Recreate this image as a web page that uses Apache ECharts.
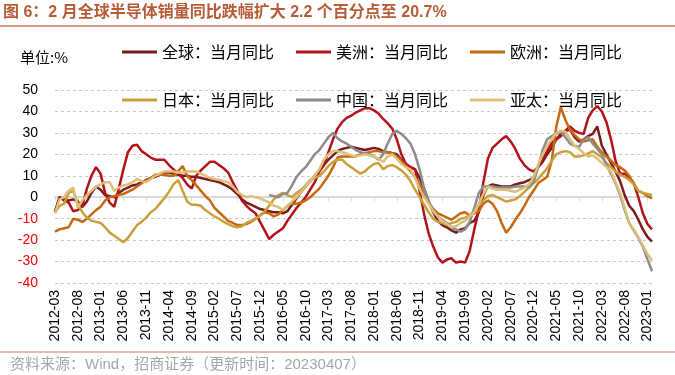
<!DOCTYPE html>
<html lang="zh">
<head>
<meta charset="UTF-8">
<title>全球半导体销量同比</title>
<script src="https://cdn.jsdelivr.net/npm/echarts@6/dist/echarts.min.js"></script>
<style>
  html, body { margin: 0; padding: 0; background: #fff; }
  #main { width: 675px; height: 375px; }
</style>
</head>
<body>
<div id="main"></div>
<script>
// 月份：2012-03 ~ 2023-02
let months = []
for (let y = 2012; y <= 2023; y++) {
    for (let m = 1; m <= 12; m++) {
        if ((y === 2012 && m < 3) || (y === 2023 && m > 2)) continue
        months.push(y + '-' + String(m).padStart(2, '0'))
    }
}

let seriesNames = ['全球：当月同比', '美洲：当月同比', '欧洲：当月同比', '日本：当月同比', '中国：当月同比', '亚太：当月同比']
let seriesColors = ['#7B1A1A', '#B3121A', '#C4690F', '#C9A03C', '#8C8C8C', '#DDBF78']

let globalYoy = [
    -7, 0, -1, -1.5, -1, -2, -4.5, -2, 2, 5,
    3.5, 1, 0.5, 0, 2, 3.5, 4.5, 5.5, 6, 7, 8, 9,
    9.5, 10.5, 11.5, 11.5, 11, 10.5, 10, 10, 9.5, 9.5, 9, 8.5,
    8, 7.5, 7, 6, 5, 3.5, 1.5, -1, -2.5, -3.5, -4.5, -5.5,
    -6, -6.5, -7, -7, -7.5, -6.5, -3.5, -0.5, 2.5, 5, 7.5, 10,
    12.5, 15, 17.5, 19.5, 21.5, 22.5, 23, 23.5, 23, 22.5, 22, 22.5,
    23, 22.5, 21.5, 21, 20.5, 20, 17.5, 15.5, 14, 13, 9, 4,
    -2, -7, -11, -13, -14, -15.5, -16.5, -15, -14.5, -12, -11, -7,
    1, 5, 6, 5.5, 5, 5, 5, 6, 6.5, 7, 8, 9,
    14, 16.5, 20, 23, 27, 29.5, 31, 31.5, 28, 26, 27, 28.5,
    29.5, 33, 24, 20, 16, 12, 7.5, 1, -4, -6.5, -10.5, -15,
    -18.5, -20.7
]
let americasYoy = [
    -7, 0, -1.5, -2.5, -6.5, -6, -4, 4, 10, 14,
    11, 2, -2.5, -4.5, 4, 13, 21, 24, 24.5, 21.5, 20, 18.5,
    17.5, 17.5, 17.5, 15, 13, 11, 9, 6, 4, 10, 12.5, 14.5,
    16.5, 16.5, 15, 13.5, 11.5, 7, 3, -1.5, -4, -6, -7.5, -11.5,
    -15.5, -19.5, -17.5, -16, -14.5, -11, -8, -5, -2.5, 0, 3.5, 7,
    12, 15, 21, 27, 32, 35, 37, 38, 39.5, 40.5, 41.5, 41.5,
    40.5, 39, 36.5, 34.5, 32, 27, 20, 15.5, 14, 13, 3, -8,
    -17, -23, -28, -30.5, -29, -28.5, -30.5, -30, -30.5, -25, -15, -6,
    7, 18, 23, 25, 27, 28.5, 26, 22.5, 18, 15, 13, 12,
    14, 17.5, 21.5, 25.5, 27, 28.5, 31, 33, 31, 30, 29.5, 37,
    40.5, 42.5, 40, 35, 27, 17, 11, 11, 9, 6.5, 0, -7.5,
    -12.5, -15
]
let europeYoy = [
    -16, -15, -14.5, -14, -10, -10.5, -11.5, -10, -8, -6,
    -4.5, -1.5, 0, 0.5, 1, 1.5, 2.5, 3.5, 5, 6.5, 8, 9,
    10.5, 10.5, 10.5, 10, 10, 12, 14.5, 10, 8, 5.5, 3, 0.5,
    -1.5, -5, -7, -9, -11, -12, -13, -13, -12.5, -11.5, -10, -8.5,
    -7, -7.5, -9, -8, -6, -4, -3, -3, -2.5, -1.5, 0, 2,
    4, 7, 10, 14, 18.5, 19, 19, 19, 19, 20, 20.5, 21,
    21.5, 21.5, 21, 21, 20.5, 19, 17, 14.5, 12, 9.5, 6, 1,
    -2.5, -5.5, -7.5, -8.5, -9.5, -10.5, -9, -7.5, -7, -8.5, -7.5, -6.5,
    -3, -1.5, -3, -6.5, -12, -16.5, -14, -10.5, -7.5, -4, 0, 3,
    6.5, 8, 9.5, 17, 33, 42, 36, 31.5, 29, 27, 26, 26.5,
    27, 23.5, 21, 19, 17, 15, 14, 12.5, 10, 6.5, 3, 2,
    0.5, -0.5
]
let japanYoy = [
    -7, -4, -3, 2, 3, -3, -7, -9.5, -11, -11.5,
    -12, -14, -16.5, -18, -19.5, -21, -19, -16, -13, -11.5, -9.5, -7,
    -5.5, -3, -0.5, 2.5, 6, 8, 3, -2, -3.5, -3.5, -4, -6,
    -7.5, -9, -10, -11.5, -12.5, -13.5, -14, -13.5, -12, -11, -10, -8.5,
    -6.5, -4, -1, 1, 2, 1, 0, 2, 3.5, 5.5, 8, 9,
    10, 12, 14.5, 16.5, 17.5, 17.5, 15.5, 14, 12.5, 11, 12, 14,
    15.5, 16, 13, 14.5, 15, 14, 12.5, 10.5, 7.5, 3.5, 0, -3.5,
    -7, -10, -11.5, -12, -13, -12, -11.5, -10, -9.5, -8.5, -6.5, -4,
    -1.5, 0.5, 1, 0, -1, -2, -1.5, -1, 0.5, 2.5, 4.5, 6.5,
    8.5, 11, 13.5, 17, 20, 21, 21.5, 21, 19, 19, 19.5, 20.5,
    21.5, 20, 18.5, 16, 14, 12, 10.5, 9.5, 8, 6, 3, 2,
    1.5, 1
]
// 中国数据自 2016-02 起
let chinaStart = '2016-02'
let chinaYoy = [
    1, 0.5, 0, 1.5, 2, 5.5, 9.5, 12, 14, 17, 20,
    22, 25, 28, 30, 27.5, 26, 25, 23.5, 22, 21, 20.5, 20,
    19, 17.5, 20, 25, 29.5, 31, 29.5, 27.5, 25, 20, 13, 4,
    -2, -6.5, -9, -10.5, -12, -14, -15, -16, -15, -11.5, -5, 2,
    5, 5, 5, 4.5, 4.5, 4.5, 4.5, 5, 5, 5, 5, 7,
    14, 22, 27, 28.5, 29.5, 30.5, 28, 25, 24, 23.5, 27, 28,
    25, 22.5, 20, 15, 11, 6.5, 1, -6, -12, -15.5, -19, -23,
    -29, -34.5
]
let asiaYoy = [
    -7.5, -1, 0, 3, 4.5, -5, -1.5, 1, 3, 5,
    6, 7, 7, 3, 4.5, 5.5, 6, 7, 8.5, 7.5, 7, 8.5,
    10, 11, 12, 12, 12, 11.5, 11.5, 12, 12, 12, 11, 10,
    9, 8.5, 8, 7.5, 7, 5, 2.5, 1, 0, 0.5, 0, -0.5,
    -1.5, -2.5, -4, -4.5, -6, -4, -2, 0, 2.5, 5, 7.5, 10,
    13, 17.5, 20, 21.5, 21.5, 21, 20.5, 19.5, 19, 19.5, 20, 19.5,
    19, 18, 16.5, 19, 20, 18, 15.5, 14, 13, 9, 4, 0,
    -3, -6.5, -9, -11, -12.5, -14, -13.5, -12, -11, -9, -7, -3,
    1.5, 5, 4, 3.5, 3.5, 3.5, 3, 2.5, 3.5, 4.5, 6, 9.5,
    15, 20, 24, 27, 30, 31, 30.5, 27, 24, 22.5, 20.5, 19,
    19.5, 18, 16, 14, 12, 7, 2, -5, -12, -15, -18.5, -22.5,
    -26.5, -29.5
]
let yTicks = { min: -40, max: 50, interval: 10 }
</script>
<script>
var chartDom = document.getElementById('main');
var myChart = echarts.init(chartDom);
var option;

let chinaOffset = months.indexOf(chinaStart)
let chinaData = chinaYoy.map((v, k) => [months[chinaOffset + k], v])
let allData = [globalYoy, americasYoy, europeYoy, japanYoy, chinaData, asiaYoy]

let latin = 'Liberation Sans, Arial, Noto Sans CJK SC, sans-serif'
let cjk = 'Noto Sans CJK SC, sans-serif'

let legendBase = {
    left: 122,
    itemWidth: 35,
    itemHeight: 3,
    itemGap: 22,
    icon: 'rect',
    padding: 0,
    textStyle: { fontSize: 16, color: '#000', fontFamily: cjk }
}

option = {
    animation: false,
    color: seriesColors,
    title: {
        text: '图 6：2 月全球半导体销量同比跌幅扩大 2.2 个百分点至 20.7%',
        left: 3,
        top: 5,
        padding: 0,
        textStyle: { fontSize: 16, fontWeight: 'bold', color: '#B85C38', fontFamily: latin }
    },
    legend: [
        Object.assign({}, legendBase, { top: 44, data: seriesNames.slice(0, 3) }),
        Object.assign({}, legendBase, { top: 92, data: seriesNames.slice(3) })
    ],
    graphic: [
        { type: 'line', shape: { x1: 0, y1: 26, x2: 675, y2: 26 }, style: { stroke: '#C8775A', lineWidth: 1.5 } },
        { type: 'text', left: 20, top: 50, style: { text: '单位:%', fontSize: 15, fill: '#000', fontFamily: cjk } },
        { type: 'line', shape: { x1: 0, y1: 352, x2: 675, y2: 352 }, style: { stroke: '#C8775A', lineWidth: 1 } },
        { type: 'text', left: 10, top: 357, style: { text: '资料来源：Wind，招商证券（更新时间：20230407）', fontSize: 15, fill: '#A6A6A6', fontFamily: latin } }
    ],
    grid: {
        left: 55,
        right: 23,
        top: 90,
        bottom: 92
    },
    xAxis: [
        {
            type: 'category',
            data: months,
            boundaryGap: false,
            axisLine: { show: false, onZero: false },
            axisTick: { show: false },
            axisLabel: { interval: 4, rotate: 90, margin: 7, fontSize: 14, color: '#000', fontFamily: latin },
            splitLine: { show: false }
        },
        {
            type: 'category',
            data: months,
            boundaryGap: false,
            position: 'bottom',
            axisLine: { onZero: true, lineStyle: { color: '#D9D9D9', width: 2 } },
            axisTick: { show: true, interval: 4, length: 4, lineStyle: { color: '#D9D9D9' } },
            axisLabel: { show: false },
            splitLine: { show: false }
        }
    ],
    yAxis: {
        type: 'value',
        min: yTicks.min,
        max: yTicks.max,
        interval: yTicks.interval,
        axisLine: { show: false },
        axisTick: { show: false },
        axisLabel: {
            fontSize: 14,
            margin: 17,
            fontFamily: latin,
            color: function (v) { return parseFloat(v) < 0 ? '#FF0000' : '#000' }
        },
        splitLine: { lineStyle: { type: [3, 3], color: '#C8C8C8', width: 1 } }
    },
    series: seriesNames.map((name, i) => ({
        name: name,
        type: 'line',
        data: allData[i],
        symbol: 'none',
        lineStyle: { width: 2.5 },
        connectNulls: false
    }))
};

option && myChart.setOption(option);
</script>
</body>
</html>
